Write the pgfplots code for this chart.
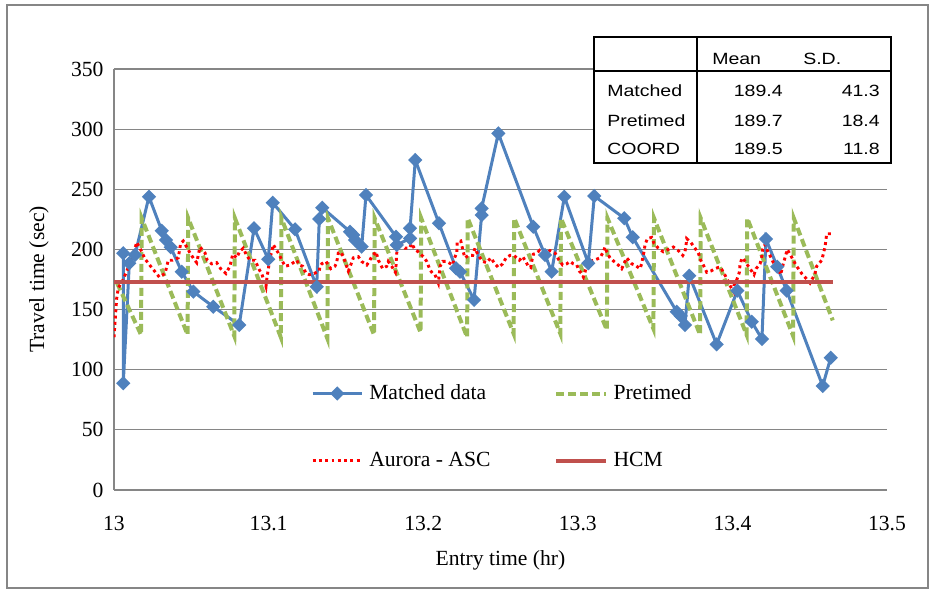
\documentclass[border=0pt]{standalone}
\usepackage{fontspec}
\setmainfont{Liberation Serif}
\newfontfamily\tabfont[FakeStretch=1.2]{Liberation Sans}
\usepackage{pgfplots}
\pgfplotsset{compat=1.18}
\definecolor{mblue}{RGB}{79,129,189}
\definecolor{pgreen}{RGB}{155,187,89}
\definecolor{hcmred}{RGB}{192,80,77}
\definecolor{gridgray}{RGB}{134,134,134}
\begin{document}
\fontsize{16.2}{19}\selectfont
\begin{tikzpicture}
\begin{axis}[
  scale only axis, width=579.75pt, height=315.75pt,
  xmin=13, xmax=13.5, ymin=0, ymax=350,
  xtick={13,13.1,13.2,13.3,13.4,13.5},
  xticklabels={13,13.1,13.2,13.3,13.4,13.5},
  ytick={0,50,...,350},
  /pgf/number format/assume math mode=true,
  axis lines=left, axis line style={-, gridgray, line width=0.9pt},
  major tick length=0pt,
  ymajorgrids, major grid style={gridgray, line width=0.9pt},
  xticklabel style={yshift=-14pt},
  yticklabel style={xshift=-2.3pt},
  xlabel={Entry time (hr)}, ylabel={Travel time (sec)},
  xlabel style={at={(axis description cs:0.5,-0.166)}, anchor=center},
  ylabel style={at={(axis description cs:-0.097,0.5)}, anchor=center, rotate=0},
  legend columns=2, legend cell align=left,
  legend style={at={(axis cs:13.1274,52.4)}, anchor=west, draw=none, fill=none,
    inner sep=0pt, nodes={inner sep=0pt}, row sep=37pt,
    /tikz/every odd column/.append style={column sep=4.5pt},
    /tikz/every even column/.append style={column sep=48pt}},
  legend image code/.code={\draw[mark repeat=2,mark phase=2,#1] plot coordinates {(0pt,0pt) (18.4pt,0pt) (36.8pt,0pt)};},
]
\coordinate (tl) at (rel axis cs:0,1);
\addplot[mblue, line width=2.25pt, mark=square*, mark size=2.65pt, mark options={rotate=45, solid}] coordinates {
(13.0060,196.8) (13.0060,88.7) (13.0099,188.5) (13.0136,195.4) (13.0226,243.8)
(13.0309,215.6) (13.0336,207.8) (13.0367,201.8) (13.0438,181.5) (13.0513,164.9)
(13.0642,152.4) (13.0810,137.2) (13.0906,217.6) (13.0998,191.8) (13.1027,238.8)
(13.1171,216.7) (13.1311,169.0) (13.1328,225.3) (13.1347,234.7) (13.1527,214.7)
(13.1548,212.0) (13.1559,207.8) (13.1602,202.3) (13.1630,245.2) (13.1824,210.6)
(13.1829,203.7) (13.1915,209.2) (13.1915,217.6) (13.1949,274.3) (13.2102,221.7)
(13.2212,184.3) (13.2238,181.5) (13.2329,158.0) (13.2378,228.6) (13.2378,234.2)
(13.2486,296.5) (13.2712,218.9) (13.2788,195.4) (13.2831,181.5) (13.2913,243.8)
(13.3068,188.5) (13.3107,244.4) (13.3301,225.9) (13.3355,210.1) (13.3640,148.2)
(13.3666,144.6) (13.3693,137.2) (13.3721,178.2) (13.3898,121.1) (13.4032,165.7)
(13.4125,139.9) (13.4191,125.5) (13.4217,208.7) (13.4290,185.6) (13.4351,165.7)
(13.4584,86.5) (13.4636,110.0)
};
\addlegendentry{Matched data}
\addplot[pgreen, line width=3pt, dash pattern=on 6pt off 3pt] coordinates {
(13.002,172) (13.0175,129) (13.0179,226) (13.0476,129) (13.0480,226)
(13.0778,128) (13.0782,226) (13.1079,127) (13.1083,226) (13.1380,126)
(13.1384,226) (13.1682,129) (13.1686,226) (13.1983,131) (13.1987,226)
(13.2284,127) (13.2288,226) (13.2585,130) (13.2589,226) (13.2887,130)
(13.2891,226) (13.3188,133) (13.3192,226) (13.3489,134) (13.3493,226)
(13.3791,129) (13.3795,226) (13.4092,129) (13.4096,226) (13.4393,128)
(13.4397,226) (13.4649,141)
};
\addlegendentry{Pretimed}
\addplot[red, line width=2.2pt, dash pattern=on 2.2pt off 2.5pt] coordinates {
(13.0000,127) (13.0017,159) (13.0028,168) (13.0060,175) (13.0082,182) (13.0114,191)
(13.0147,206) (13.0168,201) (13.0201,192) (13.0237,186) (13.0293,177) (13.0330,180)
(13.0351,191) (13.0380,191) (13.0416,193) (13.0431,205) (13.0448,207) (13.0470,202)
(13.0492,197) (13.0517,192) (13.0535,189) (13.0556,202) (13.0589,197) (13.0603,191)
(13.0632,188) (13.0664,189) (13.0690,184) (13.0724,180) (13.0750,186) (13.0768,196)
(13.0794,193) (13.0811,198) (13.0836,201) (13.0858,195) (13.0880,191) (13.0912,191)
(13.0940,183) (13.0955,180) (13.0983,169) (13.0988,175) (13.1009,193) (13.1020,198)
(13.1030,204) (13.1063,197) (13.1106,186) (13.1138,187) (13.1182,191) (13.1199,187)
(13.1221,186) (13.1242,180) (13.1263,179) (13.1294,180) (13.1328,182) (13.1332,186)
(13.1343,188) (13.1371,190) (13.1402,184) (13.1429,186) (13.1440,189) (13.1451,197)
(13.1466,198) (13.1483,194) (13.1505,186) (13.1516,182) (13.1531,187) (13.1548,193)
(13.1580,194) (13.1602,190) (13.1635,187) (13.1651,190) (13.1667,194) (13.1695,198)
(13.1710,191) (13.1738,184) (13.1764,186) (13.1774,190) (13.1796,186) (13.1820,181)
(13.1824,186) (13.1827,194) (13.1833,203) (13.1850,205) (13.1882,201) (13.1910,201)
(13.1926,205) (13.1942,201) (13.2001,194) (13.2023,190) (13.2044,183) (13.2061,180)
(13.2076,179) (13.2098,172) (13.2109,186) (13.2126,190) (13.2152,190) (13.2191,187)
(13.2199,192) (13.2217,197) (13.2220,206) (13.2243,207) (13.2259,198) (13.2270,193)
(13.2292,195) (13.2320,195) (13.2335,201) (13.2356,195) (13.2385,190) (13.2411,189)
(13.2437,193) (13.2464,188) (13.2486,185) (13.2514,188) (13.2536,193) (13.2561,195)
(13.2587,195) (13.2622,191) (13.2644,194) (13.2658,191) (13.2680,186) (13.2695,185)
(13.2702,190) (13.2712,196) (13.2734,197) (13.2751,199) (13.2766,196) (13.2781,193)
(13.2799,197) (13.2820,199) (13.2853,197) (13.2874,192) (13.2902,187) (13.2928,188)
(13.2950,190) (13.2971,188) (13.2993,187) (13.3010,182) (13.3025,180) (13.3036,177)
(13.3058,186) (13.3079,190) (13.3105,191) (13.3144,193) (13.3165,198) (13.3176,202)
(13.3187,198) (13.3208,193) (13.3234,190) (13.3262,187) (13.3284,184) (13.3299,188)
(13.3316,193) (13.3349,188) (13.3370,187) (13.3402,184) (13.3413,188) (13.3420,193)
(13.3428,198) (13.3435,204) (13.3450,209) (13.3478,210) (13.3493,205) (13.3521,201)
(13.3553,198) (13.3585,200) (13.3618,202) (13.3650,199) (13.3679,195) (13.3693,198)
(13.3700,203) (13.3704,209) (13.3730,206) (13.3758,201) (13.3780,197) (13.3795,191)
(13.3812,187) (13.3834,181) (13.3860,182) (13.3888,184) (13.3909,185) (13.3924,185)
(13.3946,180) (13.3967,175) (13.3984,170) (13.4007,165) (13.4010,170) (13.4032,176)
(13.4045,181) (13.4049,187) (13.4060,192) (13.4067,193) (13.4092,188) (13.4114,184)
(13.4140,179) (13.4153,184) (13.4179,188) (13.4190,194) (13.4196,200) (13.4211,204)
(13.4226,199) (13.4243,195) (13.4261,190) (13.4276,187) (13.4297,184) (13.4312,179)
(13.4329,188) (13.4340,193) (13.4355,200) (13.4377,195) (13.4398,190) (13.4416,186)
(13.4448,180) (13.4476,176) (13.4502,172) (13.4519,176) (13.4534,180) (13.4545,186)
(13.4578,191) (13.4599,202) (13.4610,213) (13.4642,213)
};
\addlegendentry{Aurora - ASC}
\addplot[hcmred, line width=3pt] coordinates {(13.0,173) (13.4650,173)};
\addlegendentry{HCM}
\end{axis}
% pixel frame: origin at the image's top left corner
\begin{scope}[shift={(tl)}, x=0.75pt, y=-0.75pt, shift={(-114,-69)}]
\path (0,0) rectangle (935,591);
\draw[gridgray, line width=0.8pt] (7,5) rectangle (928,588);
\draw[black, line width=1.1pt, fill=white] (594,37) rectangle (891,163);
\draw[black, line width=1.1pt] (697,37) -- (697,163) (594,71) -- (891,71);
\begin{scope}[every node/.style={inner sep=0pt, font=\tabfont\fontsize{12.2}{14}\selectfont}]
\node[anchor=base west] at (712,65) {Mean};
\node[anchor=base west] at (803,65) {S.D.};
\node[anchor=base west] at (607,96.7) {Matched};
\node[anchor=base west] at (607,126.7) {Pretimed};
\node[anchor=base west] at (607,155) {COORD};
\node[anchor=base east] at (783,96.7) {189.4};
\node[anchor=base east] at (783,126.7) {189.7};
\node[anchor=base east] at (783,155) {189.5};
\node[anchor=base east] at (880,96.7) {41.3};
\node[anchor=base east] at (880,126.7) {18.4};
\node[anchor=base east] at (880,155) {11.8};
\end{scope}
\end{scope}
\end{tikzpicture}
\end{document}
